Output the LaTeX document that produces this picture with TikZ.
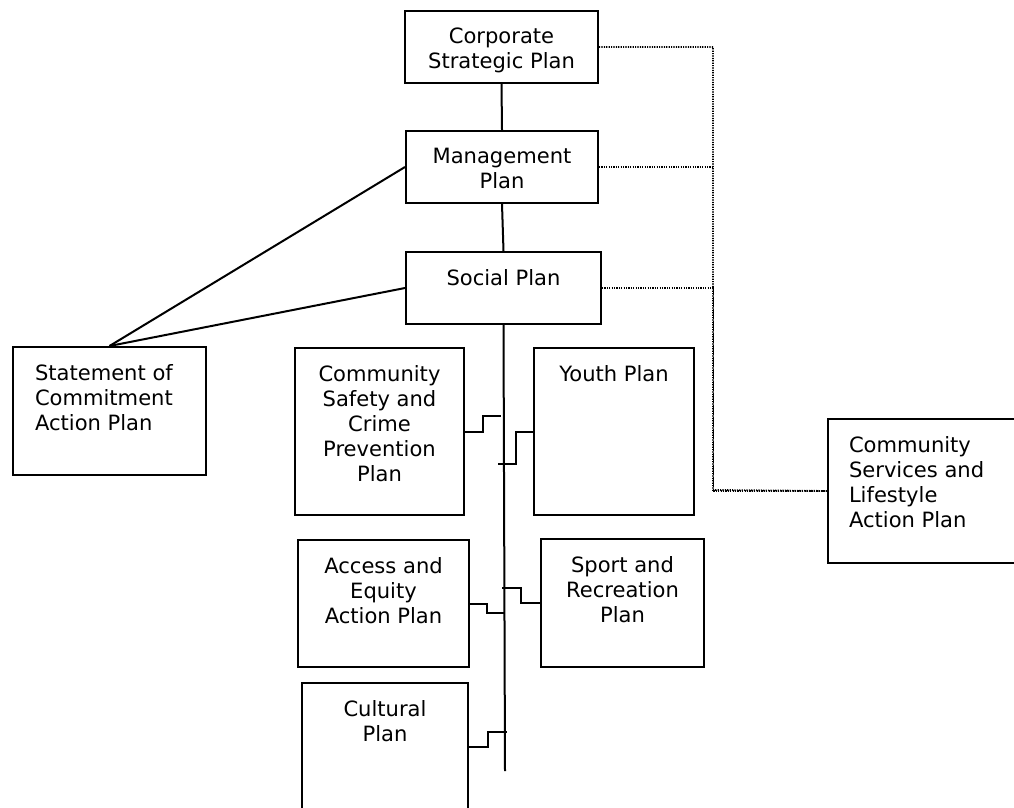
\documentclass[tikz,border=0pt]{standalone}
\usepackage{fontspec}
\setmainfont{DejaVu Sans}
\setlength{\unitlength}{0.75pt}
\newcommand{\plantext}[4]{\parbox[t][#2\unitlength][t]{#1\unitlength}{#3\vspace*{17\unitlength}#4}}

\begin{document}
\begin{tikzpicture}[x=0.75pt,y=-0.75pt]
\tikzstyle{plan}=[draw, line width=1.5pt, anchor=north west, inner sep=0pt, font=\fontsize{15.8}{18.75}\selectfont]
\tikzstyle{link}=[line width=1.5pt]
\tikzstyle{dots}=[line width=1.4pt, dash pattern=on 0.9pt off 0.9pt]
\path[use as bounding box, clip] (0,0) rectangle (1014,807);
\fill[white] (0,0) rectangle (1014,807);
\node[plan] (corp) at (404,10) {\plantext{193}{72}{\centering}{Corporate\\Strategic Plan}};
\node[plan] (mgmt) at (405,130) {\plantext{192}{72}{\centering}{Management\\Plan}};
\node[plan] (social) at (405,251) {\plantext{195}{72}{\centering}{Social Plan}};
\node[plan] (stmt) at (12,346) {\plantext{193}{128}{\raggedright\leftskip=22\unitlength}{Statement of\\Commitment\\Action Plan}};
\node[plan] (safety) at (294,347) {\plantext{169}{167}{\centering}{Community\\Safety and\\Crime\\Prevention\\Plan}};
\node[plan] (youth) at (533,347) {\plantext{160}{167}{\centering}{Youth Plan}};
\node[plan] (access) at (297,539) {\plantext{171}{127}{\centering}{Access and\\Equity\\Action Plan}};
\node[plan] (sport) at (540,538) {\plantext{163}{128}{\centering}{Sport and\\Recreation\\Plan}};
\node[plan] (cultural) at (301,682) {\plantext{166}{128}{\centering}{Cultural\\Plan}};
\node[plan] (cslap) at (827,418) {\plantext{200}{144}{\raggedright\leftskip=21\unitlength}{Community\\Services and\\Lifestyle\\Action Plan}};
\coordinate (spineend) at (505,771);
\coordinate (bus) at (713,490);
\draw[link] (corp.south) -- (mgmt.north);
\draw[link] (mgmt.south) -- (social.north);
\draw[link] (mgmt.west) -- (stmt.north);
\draw[link] (social.west) -- (stmt.north);
\draw[link] (social.south) -- (spineend);
\draw[link] (safety.east) -- ++(18,0) -- ++(0,-16) -- ++(18,0);
\draw[link] (youth.west) -- ++(-17,0) -- ++(0,32) -- ++(-18,0);
\draw[link] (access.east) -- ++(17,0) -- ++(0,9) -- ++(17,0);
\draw[link] (sport.west) -- ++(-19,0) -- ++(0,-15) -- ++(-19,0);
\draw[link] (cultural.east) -- ++(19,0) -- ++(0,-15) -- ++(19,0);
\draw[dots] (corp.east) -| (bus) -- (cslap.west);
\draw[dots] (mgmt.east) -- (mgmt.east -| bus);
\draw[dots] (social.east) -- ++(111.5,0) |- (cslap.west);
\end{tikzpicture}
\end{document}
